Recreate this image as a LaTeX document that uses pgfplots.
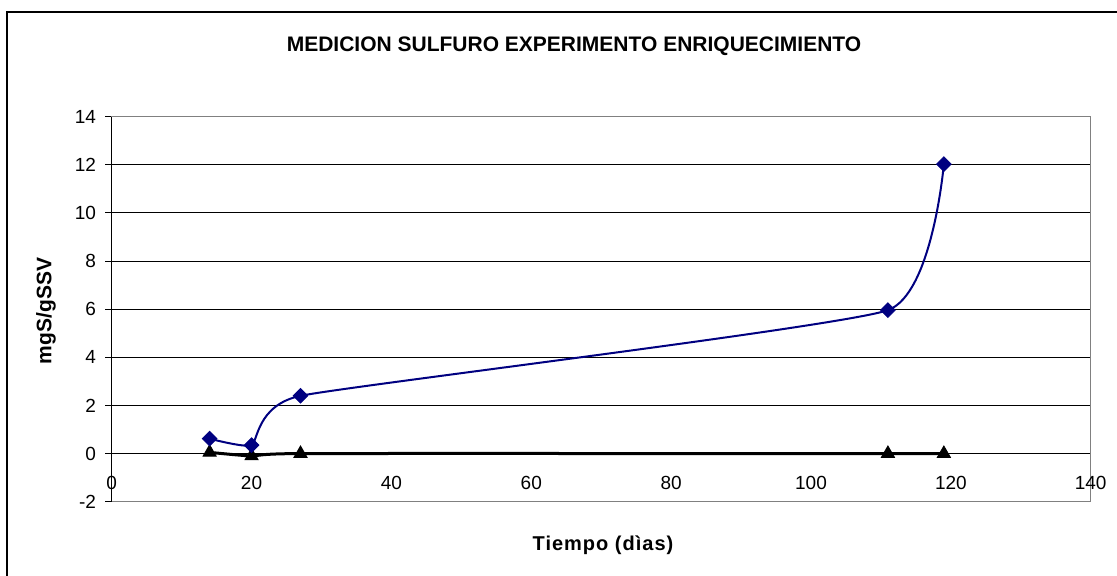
\documentclass[border=0pt]{standalone}
\usepackage{fontspec}
\setmainfont{Liberation Sans}
\newfontfamily\spacedfont[LetterSpace=5]{Liberation Sans}
\usepackage{pgfplots}
\pgfplotsset{compat=1.18}
\definecolor{navyline}{RGB}{0,0,128}
\definecolor{frame}{RGB}{128,128,128}

\begin{document}
\begin{tikzpicture}
\useasboundingbox (0,0) rectangle (558.5pt,288pt);
% outer chart frame (top and left edges)
\draw[line width=0.8pt] (3.5pt,0pt) -- (3.5pt,282pt) -- (558.5pt,282pt);

\begin{axis}[
  at={(55.85pt,37.15pt)}, anchor=south west,
  scale only axis, width=489.5pt, height=192.5pt,
  xmin=0, xmax=140, ymin=-2, ymax=14,
  xtick={0,20,...,140}, ytick={-2,0,...,14},
  ytick pos=left, tick align=outside,
  major tick length=3.3pt,
  major x tick style={draw=none},
  ymajorgrids, grid style={black, line width=0.5pt},
  axis line style={draw=frame, line width=0.5pt},
  ytick style={black, line width=0.5pt},
  tick label style={font=\fontsize{9.5}{11}\selectfont},
  /pgf/number format/assume math mode=true,
  xticklabel style={anchor=center, yshift=12.6pt},
  yticklabel style={xshift=-1pt},
  clip=false,
]
% left axis drawn in black over the grey frame
\draw[black, line width=0.6pt] (axis cs:0,-2) -- (axis cs:0,14);

\addplot[black, line width=1.5pt, smooth, tension=0.25, mark=triangle*, mark size=3.8pt,
  mark options={fill=black, draw=black, line width=0.4pt}]
  coordinates {(14,0.05) (20,-0.1) (27,0) (111,0) (119,0)};

\addplot[navyline, line width=1pt, smooth, tension=0.25, mark=square*, mark size=2.6pt,
  mark options={fill=navyline, draw=navyline, rotate=45, line width=0.4pt}]
  coordinates {(14,0.62) (20,0.35) (27,2.4) (111,5.96) (119,12.03)};
\end{axis}

\node[font=\bfseries\fontsize{10.5}{12}\selectfont] at (287pt,265pt)
  {MEDICION SULFURO EXPERIMENTO ENRIQUECIMIENTO};
\node[font=\spacedfont\bfseries\fontsize{10}{12}\selectfont] at (301.5pt,15.5pt)
  {Tiempo (dìas)};
\node[font=\bfseries\fontsize{10.5}{12}\selectfont, rotate=90] at (23pt,132.5pt)
  {mgS/gSSV};
\end{tikzpicture}
\end{document}
